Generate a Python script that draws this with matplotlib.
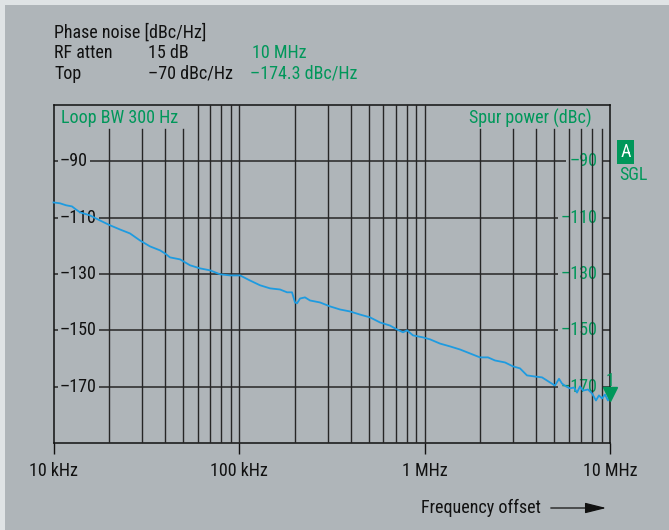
import matplotlib
matplotlib.use("Agg")
import matplotlib.pyplot as plt
from matplotlib.patches import Rectangle, FancyArrowPatch
from matplotlib import transforms
import matplotlib.ticker as mticker

plt.rcParams['font.family'] = ['Roboto Condensed', 'Archivo Narrow', 'DejaVu Sans']

# ---------------- data ----------------
freq_hz = [1.0e4, 1.084e4, 1.168e4, 1.258e4, 1.322e4, 1.39e4, 1.573e4, 1.781e4, 2.016e4,
           2.283e4, 2.585e4, 2.927e4, 3.313e4, 3.751e4, 3.992e4, 4.246e4, 4.808e4, 5.443e4,
           6.163e4, 6.977e4, 7.9e4, 8.94e4, 1.013e5, 1.146e5, 1.298e5, 1.47e5, 1.664e5,
           1.815e5, 1.931e5, 2.004e5, 2.055e5, 2.133e5, 2.269e5, 2.414e5, 2.733e5, 3.095e5,
           3.504e5, 3.967e5, 4.491e5, 5.085e5, 5.756e5, 6.516e5, 7.108e5, 7.66e5, 8.05e5,
           8.67e5, 9.81e5, 1.071e6, 1.212e6, 1.372e6, 1.554e6, 1.759e6, 1.991e6, 2.199e6,
           2.399e6, 2.716e6, 3.0e6, 3.272e6, 3.568e6, 3.942e6, 4.3e6, 4.749e6, 5.05e6,
           5.31e6, 5.51e6, 5.79e6, 6.085e6, 6.4e6, 6.64e6, 6.89e6, 7.15e6, 7.61e6, 8.0e6,
           8.4e6, 8.72e6, 9.05e6, 9.4e6, 9.75e6, 1.0e7]
phase_noise_dbc = [-104.6, -104.9, -105.6, -106.0, -107.1, -108.1, -109.2, -111.0, -112.7,
                   -114.2, -115.6, -118.1, -120.2, -121.6, -122.7, -124.1, -124.8, -126.9,
                   -128.0, -128.7, -130.1, -130.5, -130.5, -132.3, -134.0, -135.1, -135.5,
                   -136.5, -136.5, -140.1, -140.4, -138.7, -138.3, -139.4, -140.1, -141.5,
                   -142.6, -143.3, -144.4, -145.4, -147.2, -148.3, -149.7, -150.7, -150.0,
                   -151.8, -152.5, -153.2, -154.7, -155.7, -156.8, -158.2, -159.6, -159.6,
                   -160.7, -161.4, -162.8, -163.5, -166.0, -166.4, -166.7, -168.5, -169.6,
                   -167.2, -168.9, -169.9, -170.6, -170.3, -172.1, -169.9, -171.4, -171.0, -172.4,
                   -174.9, -173.1, -174.2, -172.8, -174.9, -173.8]

y_grid = [-90, -110, -130, -150, -170]
y_labels = ['\u201390', '\u2013110', '\u2013130', '\u2013150', '\u2013170']
x_major = [1e4, 1e5, 1e6, 1e7]
x_major_labels = ['10 kHz', '100 kHz', '1 MHz', '10 MHz']
x_grid = [2e4, 3e4, 4e4, 5e4, 6e4, 7e4, 8e4, 9e4, 1e5,
          2e5, 3e5, 4e5, 5e5, 6e5, 7e5, 8e5, 9e5, 1e6,
          2e6, 3e6, 4e6, 5e6, 6e6, 7e6, 8e6, 9e6]
x_grid_masked = [2e4, 3e4, 4e4, 5e4, 2e6, 3e6, 4e6, 5e6, 6e6, 7e6, 8e6, 9e6]
marker_freq = 1e7
marker_level = -174.3

# ---------------- style ----------------
W, H = 669, 530
PANEL = '#afb5b9'
OUTER = '#dfe3e5'
GREEN = '#00975a'
BLUE = '#1e9be0'
GRID = '#262626'
FS = 13

fig = plt.figure(figsize=(W / 100, H / 100), dpi=100, facecolor=OUTER)
fig.patches.append(Rectangle((5 / W, 0), 1 - 5 / W, 1 - 5 / H, transform=fig.transFigure,
                             facecolor=PANEL, edgecolor='none', zorder=-10))

L, R, T, B = 53.5, 610, 105, 443
ax = fig.add_axes([L / W, 1 - B / H, (R - L) / W, (B - T) / H])
ax.set_zorder(2)
ax.set_facecolor(PANEL)
ax.set_xscale('log')
ax.set_xlim(1e4, 1e7)
ax.set_ylim(-190, -70)

for s in ax.spines.values():
    s.set_color('#111111')
    s.set_linewidth(1.1)

ax.set_xticks(x_major)
ax.set_xticklabels(x_major_labels, fontsize=FS, color='#111111')
ax.xaxis.set_minor_locator(mticker.NullLocator())
ax.tick_params(axis='x', which='major', direction='out', length=8, width=1, color='#111111', pad=6)
ax.set_yticks([])

# horizontal grid
for y in y_grid:
    ax.axhline(y, color=GRID, lw=1.1, zorder=1)
# vertical grid
mask_top = 1 - (129 - T) / (B - T)
for x in x_grid:
    ymax = mask_top if x in x_grid_masked else 1.0
    ax.axvline(x, ymin=0, ymax=ymax, color=GRID, lw=1.0, zorder=3)

blend = transforms.blended_transform_factory(ax.transAxes, ax.transData)
for y, lab in zip(y_grid, y_labels):
    ax.text((60 - L) / (R - L), y, lab, transform=blend, ha='left', va='center', fontsize=FS,
            color='#111111', zorder=2,
            bbox=dict(boxstyle='square,pad=0.12', facecolor=PANEL, edgecolor='none'))
    ax.text((598 - L) / (R - L), y, lab, transform=blend, ha='right', va='center', fontsize=FS,
            color=GREEN, zorder=2,
            bbox=dict(boxstyle='square,pad=0.2', facecolor=PANEL, edgecolor='none'))

ax.text((61 - L) / (R - L), 1 - (118 - T) / (B - T), 'Loop BW 300 Hz', transform=ax.transAxes,
        ha='left', va='center', fontsize=FS, color=GREEN, zorder=5)
ax.text((592 - L) / (R - L), 1 - (118 - T) / (B - T), 'Spur power (dBc)', transform=ax.transAxes,
        ha='right', va='center', fontsize=FS, color=GREEN, zorder=5)

ax.plot(freq_hz, phase_noise_dbc, color=BLUE, lw=1.3, zorder=4, clip_on=False)

# marker 1
off = transforms.offset_copy(ax.transData, fig=fig, x=0, y=5, units='dots')
ax.plot([marker_freq], [marker_level], marker='v', color=GREEN, markersize=10, linestyle='none',
        transform=off, clip_on=False, zorder=6)
off2 = transforms.offset_copy(ax.transData, fig=fig, x=0, y=18, units='dots')
ax.text(marker_freq, marker_level, '1', transform=off2, ha='center', va='center',
        fontsize=FS, color=GREEN, zorder=6, clip_on=False)

# header text
def ftext(x, y, s, color='#111111', **kw):
    fig.text(x / W, 1 - y / H, s, ha='left', va='center', fontsize=FS, color=color, **kw)

ftext(54, 33, 'Phase noise [dBc/Hz]')
ftext(54, 53, 'RF atten')
ftext(54, 74, 'Top')
ftext(148, 53, '15 dB')
ftext(148, 74, '\u201370 dBc/Hz')
ftext(252, 53, '10 MHz', color=GREEN)
ftext(250, 74, '\u2013174.3 dBc/Hz', color=GREEN)

# A / SGL
fig.text(625.5 / W, 1 - 152 / H, 'A', ha='center', va='center', fontsize=FS, color='white',
         bbox=dict(boxstyle='square,pad=0.18', facecolor=GREEN, edgecolor='none'))
ftext(619, 175, 'SGL', color=GREEN)

# frequency offset label + arrow
ftext(421, 508, 'Frequency offset')
fig.add_artist(FancyArrowPatch((548 / W, 1 - 508 / H), (609 / W, 1 - 508 / H),
               transform=fig.transFigure, arrowstyle='-|>,head_length=1.0,head_width=0.25',
               mutation_scale=13, color='#111111', lw=0.9))

fig.savefig('out.png', dpi=100, facecolor=OUTER)
